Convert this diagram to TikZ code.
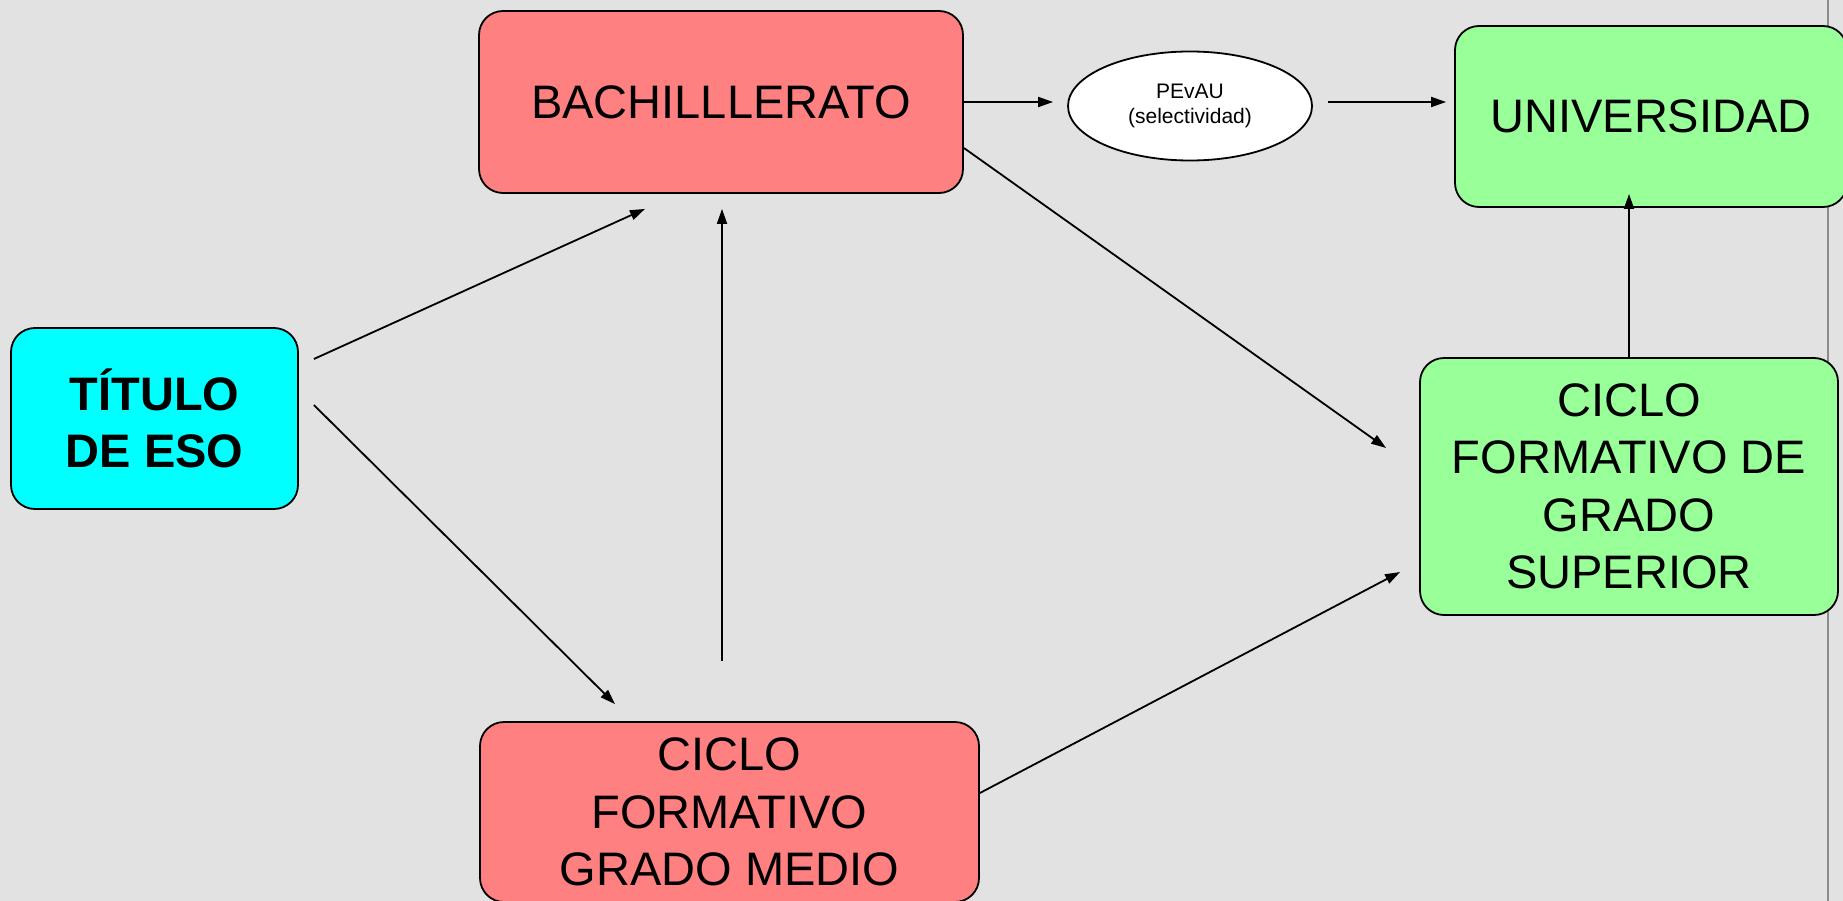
\documentclass[tikz,border=0pt]{standalone}
\usepackage{fontspec}
\setmainfont{Liberation Sans}
\usepackage{tikz}
\usetikzlibrary{arrows.meta}
\usetikzlibrary{shapes.geometric, calc}

\definecolor{fondo}{HTML}{E2E2E2}
\definecolor{rosa}{HTML}{FF8080}
\definecolor{verde}{HTML}{99FF99}
\definecolor{cian}{HTML}{00FFFF}
\definecolor{raya}{HTML}{8C8C8C}

\tikzset{
  caja/.style={draw, line width=1.8pt, rounded corners=24pt, align=center, inner sep=0pt,
    font=\fontsize{47}{57.5}\selectfont},
  flecha/.style={line width=1.8pt, -{Triangle[length=15pt,width=10pt]}},
}

\begin{document}
\begin{tikzpicture}[x=1pt, y=-1pt]
\useasboundingbox (0,0) rectangle (1843,901);
\fill[fondo] (0,0) rectangle (1843,901);
\draw[raya, line width=2pt] (1828,0)--(1828,901);

% cajas
\node[caja, fill=cian, minimum width=287pt, minimum height=181pt, font=\fontsize{47}{57.5}\selectfont\bfseries] (tit) at (154.5,418.5) {TÍTULO\\DE ESO};
\node[caja, fill=rosa, minimum width=484pt, minimum height=182pt] (bach) at (721,102) {BACHILLLERATO};
\node[caja, fill=rosa, minimum width=499pt, minimum height=180pt] (cgm) at (729.5,812) {CICLO\\FORMATIVO\\GRADO MEDIO};
\node[draw, fill=white, ellipse, line width=1.8pt, inner sep=0pt, minimum width=244pt, minimum height=109pt,
  font=\fontsize{21}{25}\selectfont, align=center] (pevau) at (1190,106) {PEvAU\\(selectividad)};
\node[caja, fill=verde, minimum width=392pt, minimum height=181pt] (univ) at (1651,116.5) {UNIVERSIDAD};
\node[caja, fill=verde, minimum width=418pt, minimum height=257pt] (cgs) at (1629,486.5) {CICLO\\FORMATIVO DE\\GRADO\\SUPERIOR};

% flechas
\draw[flecha] ($(bach.east)+(0,0)$) -- ($(pevau.west)+(-14,-4)$);
\draw[flecha] ($(pevau.east)+(15,-4)$) -- ($(univ.west)+(-8,-14.5)$);
\draw[flecha] ($(tit.east)+(15,-59.5)$) -- ($(bach.south)+(-76,15)$);
\draw[flecha] ($(tit.east)+(15,-13.5)$) -- ($(cgm.north)+(-114.5,-17)$);
\draw[flecha] ($(cgm.north)+(-7.5,-60)$) -- ($(bach.south)+(1,15)$);
\draw[flecha] ($(bach.east)+(0,46)$) -- ($(cgs.west)+(-33,-38.5)$);
\draw[flecha] ($(cgm.east)+(0,-19)$) -- ($(cgs.west)+(-19,85.5)$);
\draw[flecha] (cgs.north) -- ($(univ.south)+(-22,-14)$);

\end{tikzpicture}
\end{document}
